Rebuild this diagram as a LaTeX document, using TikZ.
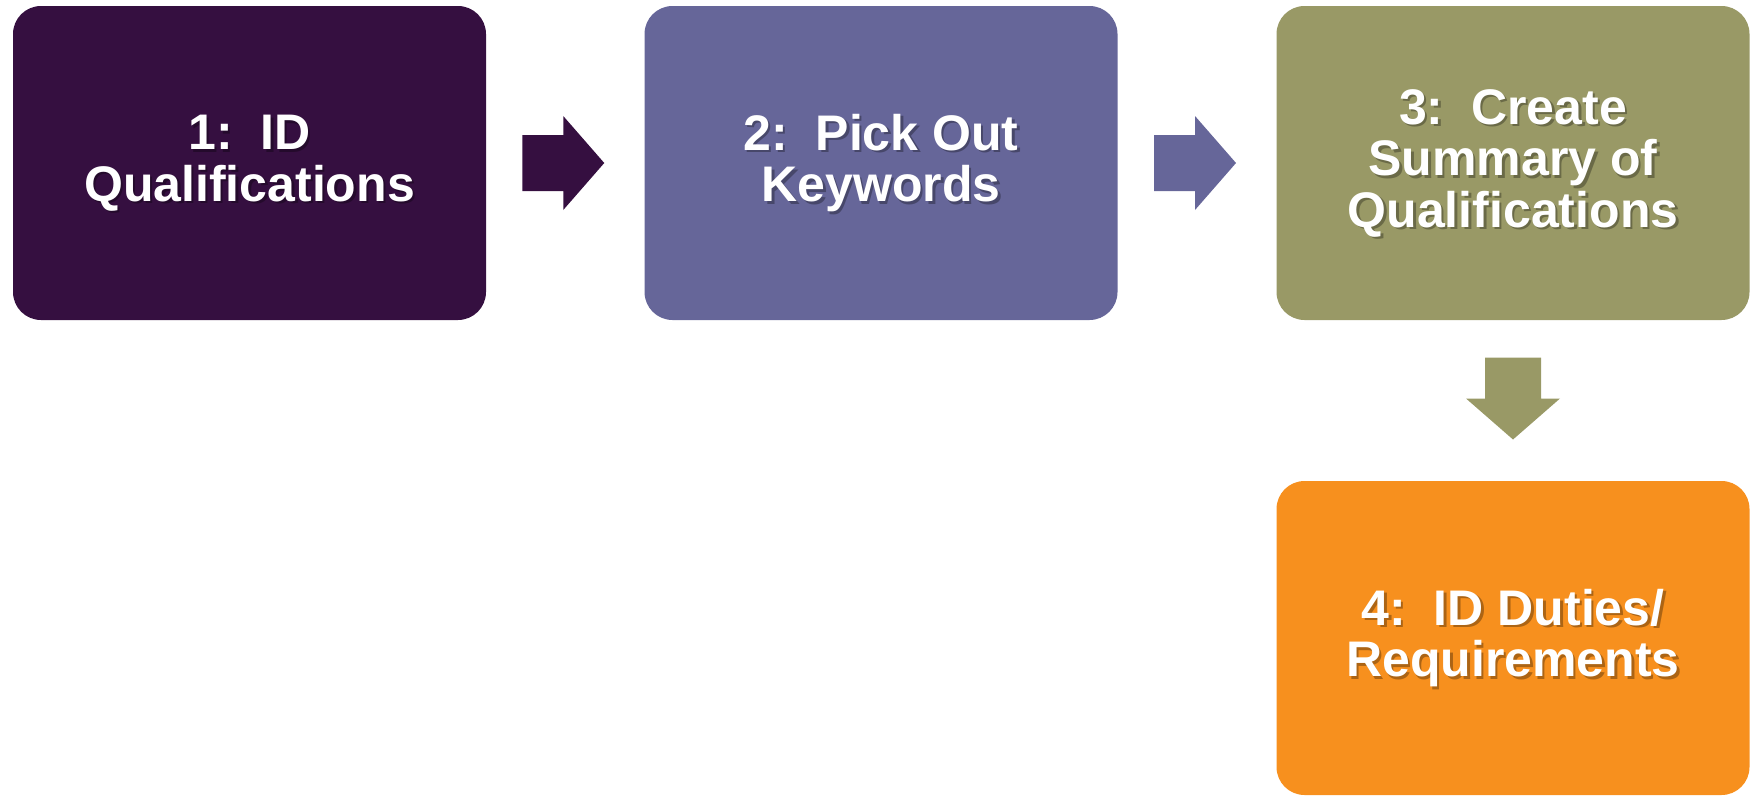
\documentclass[tikz,border=0pt]{standalone}
\usepackage{fontspec}
\setmainfont{Liberation Sans}
\usetikzlibrary{calc}

\definecolor{stepplum}{RGB}{53,15,64}
\definecolor{stepslate}{RGB}{102,102,153}
\definecolor{stepolive}{RGB}{153,153,102}
\definecolor{steporange}{RGB}{247,144,30}

\begin{document}
\begin{tikzpicture}[
    x=1pt, y=-1pt,
    card/.style={rectangle, rounded corners=28pt, draw=none,
        minimum width=473pt, minimum height=314pt, inner sep=0pt},
    captext/.style={text=white, align=center, inner sep=0pt,
        font=\fontsize{50}{51.5}\selectfont\bfseries},
    capshadow/.style={captext, text=black, text opacity=0.3},
    pics/rarrow/.style={code={
        \fill[#1] (-41,-28) -- (0,-28) -- (0,-47) -- (41,0)
            -- (0,47) -- (0,28) -- (-41,28) -- cycle;}}
]
    \useasboundingbox (0,0) rectangle (1750,795);

    % boxes
    \node[card, fill=stepplum]   (s1) at (249.5,163) {};
    \node[card, fill=stepslate]  (s2) at (881,163)   {};
    \node[card, fill=stepolive]  (s3) at (1513,163)  {};
    \node[card, fill=steporange] (s4) at (1513,638)  {};

    % captions
    \foreach \n/\txt in {s1/{1:\ \ ID\\Qualifications},
                         s2/{2:\ \ Pick Out\\Keywords},
                         s3/{3:\ \ Create\\Summary of\\Qualifications},
                         s4/{4:\ \ ID Duties/\\Requirements}} {
        \node[capshadow] at ([shift={(2.5,2.5)}]\n.center) {\txt};
        \node[captext] at (\n.center) {\txt};
    }

    % block arrows
    \pic at ($(s1.east)!0.5!(s2.west)+(-2,0)$) {rarrow=stepplum};
    \pic at ($(s2.east)!0.5!(s3.west)+(-2,0)$) {rarrow=stepslate};
    \pic[rotate=-90] at ($(s3.south)!0.5!(s4.north)+(0,-2)$) {rarrow=stepolive};
\end{tikzpicture}
\end{document}
